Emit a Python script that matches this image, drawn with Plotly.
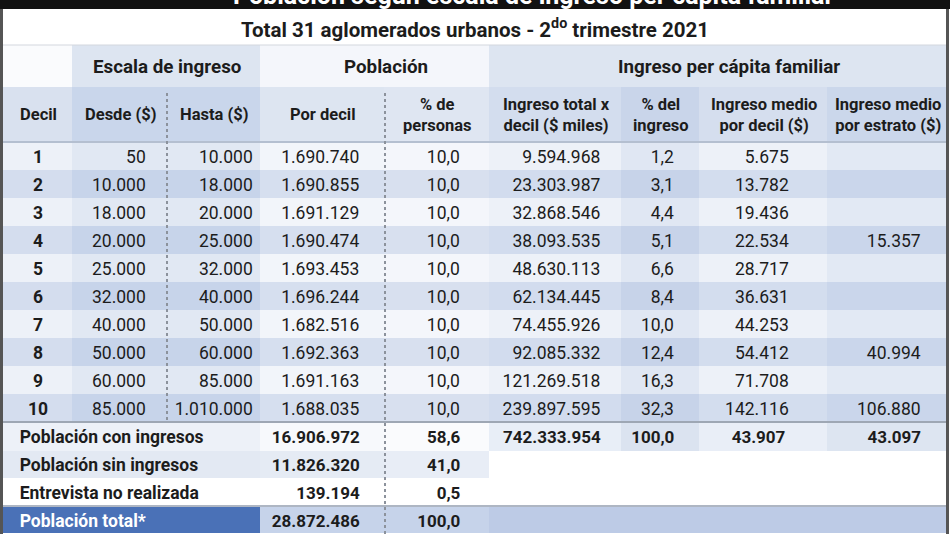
import plotly.graph_objects as go

# ------------------------------------------------------------------ data
deciles = [1, 2, 3, 4, 5, 6, 7, 8, 9, 10]
escala_desde = [50, 10000, 18000, 20000, 25000, 32000, 40000, 50000, 60000, 85000]
escala_hasta = [10000, 18000, 20000, 25000, 32000, 40000, 50000, 60000, 85000, 1010000]
poblacion_por_decil = [1690740, 1690855, 1691129, 1690474, 1693453,
                       1696244, 1682516, 1692363, 1691163, 1688035]
pct_personas = [10.0, 10.0, 10.0, 10.0, 10.0, 10.0, 10.0, 10.0, 10.0, 10.0]
ingreso_total_miles = [9594968, 23303987, 32868546, 38093535, 48630113,
                       62134445, 74455926, 92085332, 121269518, 239897595]
pct_ingreso = [1.2, 3.1, 4.4, 5.1, 6.6, 8.4, 10.0, 12.4, 16.3, 32.3]
ingreso_medio_decil = [5675, 13782, 19436, 22534, 28717, 36631, 44253, 54412, 71708, 142116]
ingreso_medio_estrato = [None, None, None, 15357, None, None, None, 40994, None, 106880]

resumen_labels = ["Población con ingresos", "Población sin ingresos",
                  "Entrevista no realizada", "Población total*"]
resumen_poblacion = [16906972, 11826320, 139194, 28872486]
resumen_pct = [58.6, 41.0, 0.5, 100.0]
resumen_ingreso_total = [742333954, None, None, None]
resumen_pct_ingreso = [100.0, None, None, None]
resumen_medio_decil = [43907, None, None, None]
resumen_medio_estrato = [43097, None, None, None]

titulo = "Población según escala de ingreso per cápita familiar"
subtitulo = "Total 31 aglomerados urbanos - 2<sup>do</sup> trimestre 2021"
grupos = ["", "Escala de ingreso", "Población", "Ingreso per cápita familiar"]
columnas = ["Decil", "Desde ($)", "Hasta ($)", "Por decil", "% de<br>personas",
            "Ingreso total x<br>decil ($ miles)", "% del<br>ingreso",
            "Ingreso medio<br>por decil ($)", "Ingreso medio<br>por estrato ($)"]


# ------------------------------------------------------------------ helpers
def fint(v):
    return "" if v is None else f"{v:,}".replace(",", ".")


def fdec(v):
    return "" if v is None else f"{v:.1f}".replace(".", ",")


W, H = 950, 534
X0, X1 = 3, 947
BAR_B = 9
SUB_T, SUB_B = 9, 45
GRP_T, GRP_B = 45, 87
HDR_T, HDR_B = 87, 142
ROW_H = 28
BODY_B = HDR_B + ROW_H * len(deciles)
SUM_T = BODY_B
SUM_B = H

col_w = [70, 94, 94, 124, 105, 132, 78, 128, 119]
grp_w = [70, 188, 229, 457]
grp_nudge = [0, 0, 10, 10]
sum_w = [258, 124, 105, 132, 78, 128, 119]


def py(px):
    return 1 - px / H


def px_x(px):
    return px / W


def edges(widths):
    e = [X0]
    for w in widths:
        e.append(e[-1] + w)
    return e


HEAD_FONT = "Roboto, Liberation Sans, sans-serif"
BODY_FONT = "Roboto, Liberation Sans, sans-serif"
TXT = "#1c1c1c"
NB = "\u00a0"

fig = go.Figure()

# --------------------------------------------------------- group header row
grp_fill = ["#fafbfd", "#dde5f1", "#f4f6fb", "#dde5f1"]
fig.add_trace(go.Table(
    domain=dict(x=[px_x(X0), px_x(X1)], y=[py(GRP_B), py(GRP_T)]),
    columnwidth=grp_w,
    header=dict(values=["" for _ in grp_w], height=GRP_B - GRP_T,
                fill=dict(color=grp_fill), line=dict(width=1, color=grp_fill)),
    cells=dict(values=[]),
))

# --------------------------------------------------------- main body table
light = ["#edf1f8", "#e1e8f3", "#e1e8f3", "#f2f5fa", "#f4f6fb", "#edf1f8", "#e0e7f3", "#edf1f8", "#e2e9f4"]
dark = ["#d4ddee", "#c7d4ea", "#c7d4ea", "#d6dfef", "#d8e0ef", "#d2dcee", "#c7d3e9", "#d3ddee", "#cad6eb"]
hdr_fill = ["#d9e1ef", "#c9d6eb", "#c9d6eb", "#dde5f1", "#dfe6f2", "#d3ddee", "#c9d5ea", "#d5deee", "#cbd7eb"]
n = len(deciles)
body_fill = [[light[c] if r % 2 == 0 else dark[c] for r in range(n)] for c in range(len(col_w))]

body_vals = [
    [str(d) for d in deciles],
    [fint(v) for v in escala_desde],
    [fint(v) for v in escala_hasta],
    [fint(v) for v in poblacion_por_decil],
    [fdec(v) for v in pct_personas],
    [fint(v) for v in ingreso_total_miles],
    [fdec(v) for v in pct_ingreso],
    [fint(v) for v in ingreso_medio_decil],
    [fint(v) for v in ingreso_medio_estrato],
]
body_suffix = ["", NB * 3, "", NB * 4, NB * 5, NB * 3, NB * 4, NB * 7, NB * 4]
body_align = ["center", "right", "right", "right", "right", "right", "right", "right", "right"]
body_weight = ["bold"] + ["normal"] * 8

fig.add_trace(go.Table(
    domain=dict(x=[px_x(X0), px_x(X1)], y=[py(BODY_B), py(HDR_T)]),
    columnwidth=col_w,
    header=dict(values=["" for _ in col_w], height=HDR_B - HDR_T,
                fill=dict(color=hdr_fill), line=dict(width=1, color=hdr_fill)),
    cells=dict(values=body_vals, height=ROW_H, align=body_align, suffix=body_suffix,
               fill=dict(color=body_fill), line=dict(width=1, color=body_fill),
               font=dict(family=BODY_FONT, size=17.5, color=TXT, weight=body_weight)),
))

# --------------------------------------------------------- summary table
sum_fill_rows = [
    ["#edf1f8", "#f7f9fc", "#fafbfd", "#e8eef7", "#dbe3f0", "#e9eef7", "#dde5f1"],
    ["#e3e9f3", "#e5ebf4", "#e8edf6", "#ffffff", "#ffffff", "#ffffff", "#ffffff"],
    ["#ffffff"] * 7,
    ["#4a71b7", "#c6d3ea", "#c6d3ea", "#bdcbe6", "#bdcbe6", "#bdcbe6", "#bdcbe6"],
]
m = len(resumen_labels)
sum_vals = [
    [s.replace(" ", NB) for s in resumen_labels],
    [fint(v) for v in resumen_poblacion],
    [fdec(v) for v in resumen_pct],
    [fint(v) for v in resumen_ingreso_total],
    [fdec(v) for v in resumen_pct_ingreso],
    [fint(v) for v in resumen_medio_decil],
    [fint(v) for v in resumen_medio_estrato],
]
nc = len(sum_w)
sum_prefix = [NB * 2, "", "", "", "", "", ""]
sum_suffix = ["", NB * 4, NB * 5, NB * 3, NB * 4, NB * 8, NB * 4]
sum_align = ["left"] + ["right"] * 6
sum_family = [BODY_FONT] * nc
sum_size = [17.5] + [17] * 6
# first summary row is carried by the table header row, the rest by its cells
cell_fill = [[sum_fill_rows[r][c] for r in range(1, m)] for c in range(nc)]
cell_color = [[("#ffffff" if (c == 0 and r == m - 1) else TXT) for r in range(1, m)]
              for c in range(nc)]

fig.add_trace(go.Table(
    domain=dict(x=[px_x(X0), px_x(X1)], y=[py(SUM_B), py(SUM_T)]),
    columnwidth=sum_w,
    header=dict(values=[col[0] for col in sum_vals], height=ROW_H, align=sum_align,
                prefix=sum_prefix, suffix=sum_suffix,
                fill=dict(color=sum_fill_rows[0]), line=dict(width=1, color=sum_fill_rows[0]),
                font=dict(family=sum_family, size=sum_size, color=TXT, weight="bold")),
    cells=dict(values=[col[1:] for col in sum_vals], height=ROW_H, align=sum_align,
               prefix=sum_prefix, suffix=sum_suffix,
               fill=dict(color=cell_fill), line=dict(width=1, color=cell_fill),
               font=dict(family=sum_family, size=sum_size,
                         color=cell_color, weight="bold")),
))

# --------------------------------------------------------- decorations
shapes = []
shapes.append(dict(type="rect", xref="paper", yref="paper", x0=0, x1=1,
                   y0=py(BAR_B), y1=1, fillcolor="#111111", line=dict(width=0), layer="below"))
for yy, col, w in [(SUB_B, "#d3d7de", 1), (HDR_B, "#b4bfd0", 2), (BODY_B, "#9ea7b4", 2),
                   (SUM_T + 3 * ROW_H, "#aeb6c3", 2)]:
    shapes.append(dict(type="line", xref="paper", yref="paper", x0=px_x(X0), x1=px_x(X1),
                       y0=py(yy), y1=py(yy), line=dict(color=col, width=w)))
e = edges(col_w)
shapes.append(dict(type="line", xref="paper", yref="paper", x0=px_x(e[2]), x1=px_x(e[2]),
                   y0=py(HDR_T + 6), y1=py(BODY_B), line=dict(color="#8c929c", width=2, dash="dot")))
shapes.append(dict(type="line", xref="paper", yref="paper", x0=px_x(e[4]), x1=px_x(e[4]),
                   y0=py(HDR_T + 6), y1=py(SUM_B), line=dict(color="#8c929c", width=2, dash="dot")))
for xx in (1.5, W - 2.5):
    shapes.append(dict(type="line", xref="paper", yref="paper", x0=px_x(xx), x1=px_x(xx),
                       y0=0, y1=py(BAR_B), line=dict(color="#555555", width=3)))

# --------------------------------------------------------- annotations
ann = []
ann.append(dict(text=f"<b>{titulo}</b>", xref="paper", yref="paper", x=px_x(533), y=py(12),
                xanchor="center", yanchor="bottom", showarrow=False,
                font=dict(family=HEAD_FONT, size=25, color="#ffffff")))
ann.append(dict(text=f"<b>{subtitulo}</b>", xref="paper", yref="paper", x=px_x(475),
                y=py((SUB_T + SUB_B) / 2 + 1), xanchor="center", yanchor="middle", showarrow=False,
                font=dict(family=HEAD_FONT, size=20.5, color=TXT)))
ge = edges(grp_w)
for i, g in enumerate(grupos):
    if g:
        ann.append(dict(text=f"<b>{g}</b>", xref="paper", yref="paper",
                        x=px_x((ge[i] + ge[i + 1]) / 2 + grp_nudge[i]), y=py((GRP_T + GRP_B) / 2 + 1),
                        xanchor="center", yanchor="middle", showarrow=False,
                        font=dict(family=HEAD_FONT, size=18.8, color=TXT)))
for i, cname in enumerate(columnas):
    ann.append(dict(text=f"<b>{cname}</b>", xref="paper", yref="paper",
                    x=px_x((e[i] + e[i + 1]) / 2), y=py((HDR_T + HDR_B) / 2),
                    xanchor="center", yanchor="middle", showarrow=False,
                    font=dict(family=HEAD_FONT, size=16.5, color=TXT)))

fig.update_layout(
    width=W, height=H, margin=dict(l=0, r=0, t=0, b=0),
    paper_bgcolor="#ffffff", plot_bgcolor="#ffffff",
    shapes=shapes, annotations=ann, showlegend=False,
)

fig.write_html("out.html", config={"displayModeBar": False},
               post_script="document.body.style.margin='0px';")
